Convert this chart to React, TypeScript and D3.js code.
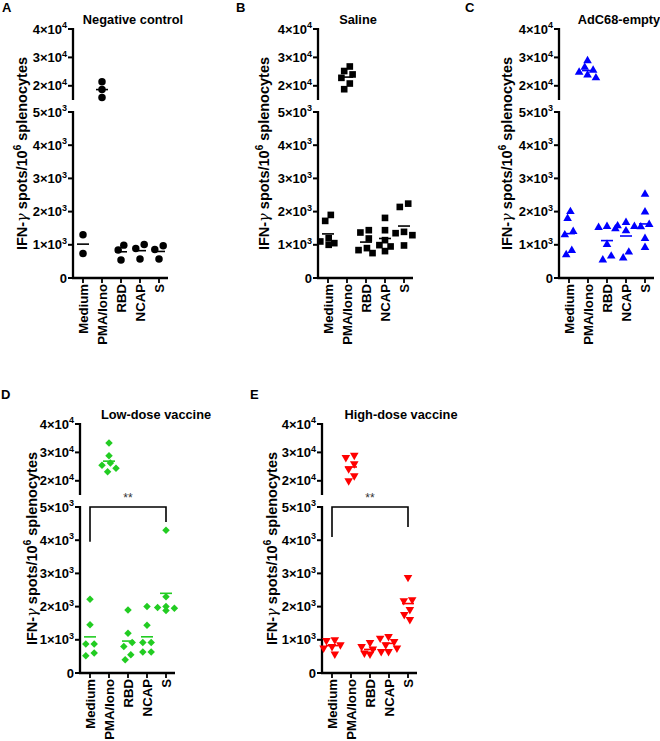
import React from 'react';
import * as d3 from 'd3';

// stimulation groups on the x axis
const categories = ['Medium', 'PMA/Iono', 'RBD', 'NCAP', 'S'];

// IFN-γ spots per 10^6 splenocytes, one array per stimulation
const negativeControl = [
  [1300, 740],
  [21400, 18700, 15900],
  [990, 840, 540],
  [1010, 890, 570],
  [970, 860, 570],
];
const saline = [
  [1900, 1720, 1200, 1100, 1050, 1000],
  [26800, 25200, 24000, 22800, 20800, 18800],
  [1440, 1370, 1190, 900, 840, 750],
  [1810, 1440, 1140, 990, 950, 810],
  [2240, 2140, 1390, 1350, 1290, 980],
];
const adc68Empty = [
  [2000, 1790, 1400, 1300, 830, 700],
  [28800, 26500, 25500, 24800, 23800, 22800],
  [1550, 1520, 1480, 1010, 660, 540],
  [1670, 1570, 1550, 1420, 780, 600],
  [2520, 1990, 1610, 1540, 1190, 920],
];
const lowDose = [
  [2220, 1450, 870, 870, 600, 520],
  [33300, 28800, 26300, 25500, 24400, 23200],
  [1900, 1200, 920, 800, 550, 400],
  [2000, 1440, 920, 920, 630, 630],
  [4300, 2300, 2000, 1970, 1950, 1880],
];
const highDose = [
  [1000, 980, 850, 800, 750, 570],
  [29000, 28200, 26000, 24200, 21800, 20000],
  [920, 800, 720, 650, 600, 570],
  [1100, 1050, 950, 850, 750, 650],
  [2880, 2210, 2180, 1910, 1760, 1610],
];

// broken y axis: two segments
const upperTicks = [20000, 30000, 40000];
const lowerTicks = [0, 1000, 2000, 3000, 4000, 5000];

const FONT = '"Liberation Sans", Arial, Helvetica, sans-serif';

type Shape = 'circle' | 'square' | 'triangle' | 'diamond' | 'down';

interface PanelCfg {
  letter: string;
  title: string;
  data: number[][];
  color: string;
  shape: Shape;
  ax: number; // x of the y axis
  ty: number; // y of the top tick
  titleDx: number;
  labelX: number;
  letterX: number;
  letterY: number;
  sig?: { from: string; to: string; left: number; right: number };
}

const panels: PanelCfg[] = [
  { letter: 'A', title: 'Negative control', data: negativeControl, color: '#000', shape: 'circle', ax: 73, ty: 29, titleDx: 60, labelX: 27, letterX: 2, letterY: 12 },
  { letter: 'B', title: 'Saline', data: saline, color: '#000', shape: 'square', ax: 318, ty: 29, titleDx: 40, labelX: 269, letterX: 236, letterY: 12 },
  { letter: 'C', title: 'AdC68-empty', data: adc68Empty, color: '#0000ff', shape: 'triangle', ax: 559, ty: 29, titleDx: 60, labelX: 512, letterX: 465, letterY: 12 },
  { letter: 'D', title: 'Low-dose vaccine', data: lowDose, color: '#22cc22', shape: 'diamond', ax: 80, ty: 424, titleDx: 76, labelX: 37, letterX: 1, letterY: 399,
    sig: { from: 'Medium', to: 'S', left: 3950, right: 4550 } },
  { letter: 'E', title: 'High-dose vaccine', data: highDose, color: '#ff0000', shape: 'down', ax: 322, ty: 424, titleDx: 79, labelX: 277, letterX: 250, letterY: 399,
    sig: { from: 'Medium', to: 'S', left: 4100, right: 4400 } },
];

const symbolPath = (shape: Shape) => {
  if (shape === 'circle') return d3.symbol().type(d3.symbolCircle).size(44)()!;
  if (shape === 'square') return d3.symbol().type(d3.symbolSquare).size(44)()!;
  if (shape === 'diamond') return d3.symbol().type(d3.symbolSquare).size(28)()!;
  return d3.symbol().type(d3.symbolTriangle).size(32)()!;
};
const symbolRotate = (shape: Shape) => (shape === 'diamond' ? 45 : shape === 'down' ? 180 : 0);

// spread overlapping points sideways, then centre each cluster
function dodge(ys: number[], size: number): number[] {
  const order = ys.map((_, i) => i).sort((a, b) => ys[a] - ys[b]);
  const off = ys.map(() => 0);
  const placed: number[] = [];
  const cands = [0, -1, 1, -2, 2, -3, 3, -4, 4].map(k => k * size * 0.4);
  for (const i of order) {
    for (const c of cands) {
      if (placed.every(j => Math.hypot(c - off[j], ys[i] - ys[j]) >= size)) {
        off[i] = c;
        break;
      }
    }
    placed.push(i);
  }
  let start = 0;
  for (let k = 1; k <= order.length; k++) {
    if (k === order.length || ys[order[k]] - ys[order[k - 1]] >= size) {
      const members = order.slice(start, k);
      const m = d3.mean(members, i => off[i]) || 0;
      members.forEach(i => (off[i] -= m));
      start = k;
    }
  }
  return off;
}

const TickLabel: React.FC<{ v: number; x: number; y: number }> = ({ v, x, y }) => {
  if (v === 0) {
    return <text x={x} y={y + 4.6} textAnchor="end" fontSize={13} fontWeight="bold">0</text>;
  }
  const e = v >= 10000 ? 4 : 3;
  const m = v / Math.pow(10, e);
  return (
    <text x={x} y={y + 4.6} textAnchor="end" fontSize={13} fontWeight="bold">
      {`${m}×10`}
      <tspan fontSize={9} dy={-5.5}>{e}</tspan>
    </text>
  );
};

const Panel: React.FC<{ cfg: PanelCfg }> = ({ cfg }) => {
  const { ax, ty, color, shape } = cfg;
  const yUpper = d3.scaleLinear().domain([15000, 40000]).range([ty + 71, ty]);
  const yLower = d3.scaleLinear().domain([0, 5000]).range([ty + 249, ty + 83]);
  const y = (v: number) => (v >= 15000 ? yUpper(v) : yLower(v));
  const x = d3.scalePoint<string>().domain(categories).range([ax + 10, ax + 86]);
  const y0 = yLower(0);
  const path = symbolPath(shape);
  const rot = symbolRotate(shape);
  const axisW = 2.3;

  return (
    <g>
      <text x={cfg.letterX} y={cfg.letterY} fontSize={13} fontWeight="bold">{cfg.letter}</text>
      <text x={ax + cfg.titleDx} y={ty - 5} textAnchor="middle" fontSize={12.8} fontWeight="bold">{cfg.title}</text>

      {/* y axis title */}
      <text
        transform={`translate(${cfg.labelX},${(ty + y0) / 2}) rotate(-90)`}
        textAnchor="middle"
        fontSize={14.5}
        fontWeight="bold"
      >
        IFN-<tspan fontWeight="normal" fontStyle="italic" fontFamily="DejaVu Serif">γ</tspan> spots/10
        <tspan fontSize={10} dy={-6}>6</tspan>
        <tspan dy={6}> splenocytes</tspan>
      </text>

      {/* broken y axis */}
      <line x1={ax} x2={ax} y1={yUpper(40000) - 1} y2={yUpper(15000)} stroke="#000" strokeWidth={axisW} />
      <line x1={ax} x2={ax} y1={yLower(5000) - 1} y2={y0 + 1} stroke="#000" strokeWidth={axisW} />
      {upperTicks.map(t => (
        <g key={t}>
          <line x1={ax - 5} x2={ax} y1={yUpper(t)} y2={yUpper(t)} stroke="#000" strokeWidth={2} />
          <TickLabel v={t} x={ax - 6} y={yUpper(t)} />
        </g>
      ))}
      {lowerTicks.map(t => (
        <g key={t}>
          <line x1={ax - 5} x2={ax} y1={yLower(t)} y2={yLower(t)} stroke="#000" strokeWidth={2} />
          <TickLabel v={t} x={ax - 6} y={yLower(t)} />
        </g>
      ))}

      {/* x axis */}
      <line x1={ax - 1} x2={ax + 95} y1={y0} y2={y0} stroke="#000" strokeWidth={axisW} />
      {categories.map(c => (
        <g key={c}>
          <line x1={x(c)} x2={x(c)} y1={y0} y2={y0 + 5} stroke="#000" strokeWidth={1.8} />
          <text
            transform={`translate(${x(c)! + 5},${y0 + 6}) rotate(-90)`}
            textAnchor="end"
            fontSize={13.2}
            fontWeight="bold"
          >
            {c}
          </text>
        </g>
      ))}

      {/* points and mean lines */}
      {cfg.data.map((vals, ci) => {
        const cx = x(categories[ci])!;
        const ys = vals.map(y);
        const offs = dodge(ys, 7);
        const mean = d3.mean(vals)!;
        return (
          <g key={ci}>
            {ys.map((py, i) => (
              <path
                key={i}
                d={path}
                transform={`translate(${cx + offs[i]},${py}) rotate(${rot})`}
                fill={color}
              />
            ))}
            <line x1={cx - 6} x2={cx + 6} y1={y(mean)} y2={y(mean)} stroke={color} strokeWidth={1.6} />
          </g>
        );
      })}

      {/* significance bracket */}
      {cfg.sig && (
        <g>
          <path
            d={`M${x(cfg.sig.from)},${yLower(cfg.sig.left)}V${yLower(5000)}H${x(cfg.sig.to)}V${yLower(cfg.sig.right)}`}
            fill="none"
            stroke="#000"
            strokeWidth={1.6}
          />
          <text
            x={(x(cfg.sig.from)! + x(cfg.sig.to)!) / 2}
            y={yLower(5000) - 5}
            textAnchor="middle"
            fontSize={12}
            fill="#333"
          >
            **
          </text>
        </g>
      )}
    </g>
  );
};

export default function App() {
  return (
    <svg
      width={660}
      height={741}
      style={{ position: 'absolute', left: 0, top: 0, background: '#fff' }}
      fontFamily={FONT}
    >
      {panels.map(p => (
        <Panel key={p.letter} cfg={p} />
      ))}
    </svg>
  );
}
